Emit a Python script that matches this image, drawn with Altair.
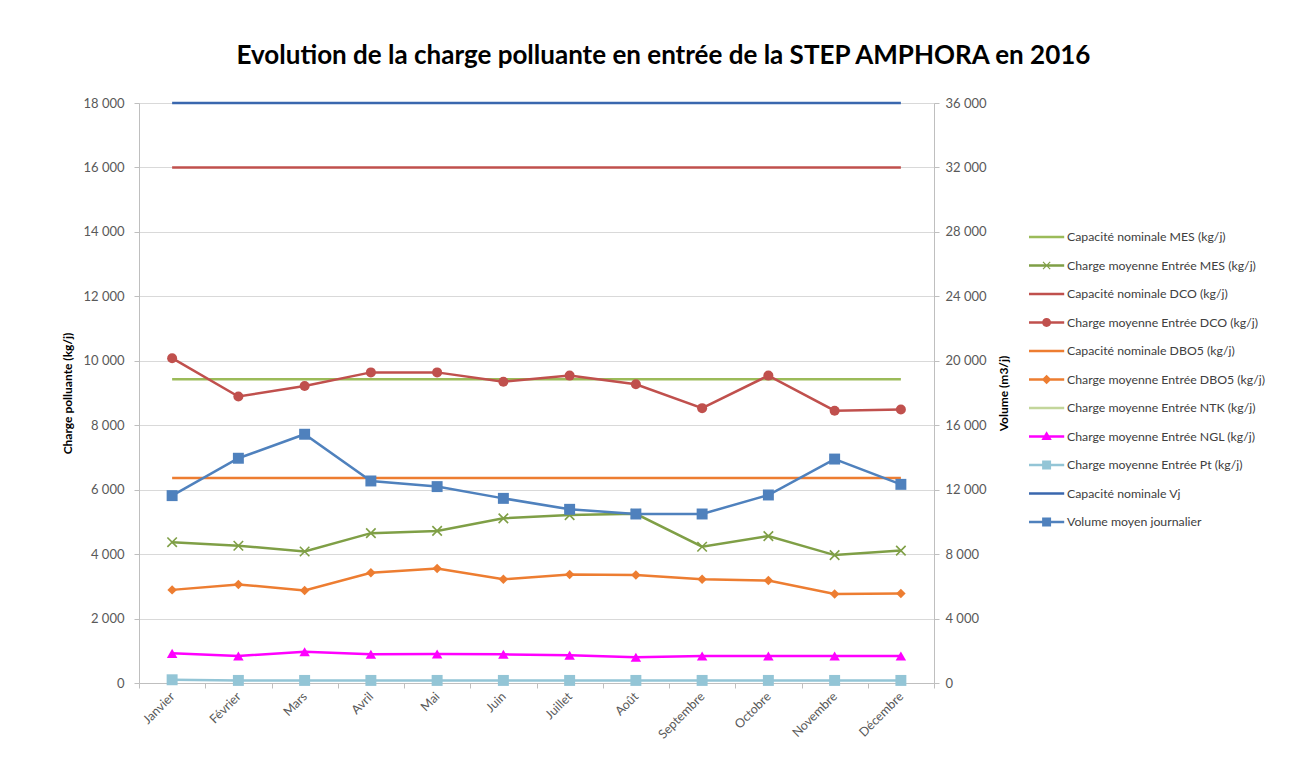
import altair as alt
import pandas as pd

months = ["Janvier", "Février", "Mars", "Avril", "Mai", "Juin", "Juillet",
          "Août", "Septembre", "Octobre", "Novembre", "Décembre"]

cap_mes = [9430, 9430, 9430, 9430, 9430, 9430, 9430, 9430, 9430, 9430, 9430, 9430]
charge_mes = [4370, 4260, 4080, 4650, 4720, 5110, 5210, 5250, 4230, 4560, 3970, 4110]
cap_dco = [16000, 16000, 16000, 16000, 16000, 16000, 16000, 16000, 16000, 16000, 16000, 16000]
charge_dco = [10080, 8890, 9220, 9640, 9640, 9350, 9540, 9270, 8530, 9540, 8450, 8490]
cap_dbo5 = [6360, 6360, 6360, 6360, 6360, 6360, 6360, 6360, 6360, 6360, 6360, 6360]
charge_dbo5 = [2890, 3060, 2870, 3420, 3550, 3220, 3370, 3350, 3220, 3180, 2760, 2780]
charge_ngl = [920, 840, 970, 890, 900, 890, 860, 800, 840, 840, 840, 840]
charge_pt = [100, 80, 80, 80, 80, 80, 80, 80, 80, 80, 80, 80]
cap_vj = [36000, 36000, 36000, 36000, 36000, 36000, 36000, 36000, 36000, 36000, 36000, 36000]
volume = [11630, 13950, 15440, 12540, 12190, 11460, 10780, 10490, 10490, 11670, 13900, 12330]

left_ticks = [0, 2000, 4000, 6000, 8000, 10000, 12000, 14000, 16000, 18000]
right_ticks = [0, 4000, 8000, 12000, 16000, 20000, 24000, 28000, 32000, 36000]

names = [
    "Capacité nominale MES (kg/j)",
    "Charge moyenne Entrée MES (kg/j)",
    "Capacité nominale DCO (kg/j)",
    "Charge moyenne Entrée DCO (kg/j)",
    "Capacité nominale DBO5 (kg/j)",
    "Charge moyenne Entrée DBO5 (kg/j)",
    "Charge moyenne Entrée NTK (kg/j)",
    "Charge moyenne Entrée NGL (kg/j)",
    "Charge moyenne Entrée Pt (kg/j)",
    "Capacité nominale Vj",
    "Volume moyen journalier",
]
colors = ["#9BBB59", "#7F9F46", "#C0504D", "#C0504D", "#ED7D31", "#ED7D31",
          "#C3D69B", "#FF00FF", "#93C5D6", "#3A67AE", "#4F81BD"]

# legend symbols: a line segment with the series marker
LINE = "M-1,-0.15L3.4,-0.15L3.4,0.15L-1,0.15Z"
CIRC = "M0.64,0A0.56,0.56 0 1,1 1.76,0A0.56,0.56 0 1,1 0.64,0Z"
DIAM = "M1.2,-0.6L1.8,0L1.2,0.6L0.6,0Z"
XMRK = "M0.7,-0.4L0.8,-0.5L1.7,0.4L1.6,0.5Z M0.7,0.4L1.6,-0.5L1.7,-0.4L0.8,0.5Z"
TRI = "M1.2,-0.65L1.85,0.45L0.55,0.45Z"
SQR = "M0.64,-0.56L1.76,-0.56L1.76,0.56L0.64,0.56Z"
legend_paths = [LINE, LINE + " " + XMRK, LINE, LINE + " " + CIRC, LINE, LINE + " " + DIAM,
                LINE, LINE + " " + TRI, LINE + " " + SQR, LINE, LINE + " " + SQR]

left_series = {
    names[0]: cap_mes, names[1]: charge_mes, names[2]: cap_dco, names[3]: charge_dco,
    names[4]: cap_dbo5, names[5]: charge_dbo5, names[7]: charge_ngl, names[8]: charge_pt,
}
right_series = {names[9]: cap_vj, names[10]: volume}

rows = []
for s, vals in left_series.items():
    for m, v in zip(months, vals):
        rows.append({"month": m, "series": s, "value": v, "axis": "left"})
for s, vals in right_series.items():
    for m, v in zip(months, vals):
        rows.append({"month": m, "series": s, "value": v, "axis": "right"})
df = pd.DataFrame(rows)
legend_df = pd.DataFrame({"series": names})

FONT = "Lato"
fmt = "replace(format(datum.value, ','), ',', ' ')"

X = alt.X("month:N", sort=months, title=None,
          scale=alt.Scale(domain=months, paddingInner=0, paddingOuter=0),
          axis=alt.Axis(labelAngle=-45, labelAlign="right", labelBaseline="middle",
                        tickBand="extent", grid=False, domainColor="#BFBFBF",
                        tickColor="#BFBFBF", tickSize=5, labelPadding=6,
                        labelFontSize=12.5, labelColor="#595959", labelFont=FONT))

YL = alt.Y("value:Q", scale=alt.Scale(domain=[0, 18000], nice=False, zero=True),
           axis=alt.Axis(values=left_ticks, labelExpr=fmt, title="Charge polluante (kg/j)",
                         grid=True, gridColor="#D9D9D9", domainColor="#BFBFBF",
                         tickColor="#BFBFBF", tickSize=5, labelPadding=10,
                         labelFontSize=13, labelColor="#595959", labelFont=FONT,
                         titleFontSize=12, titleFont=FONT, titleFontWeight="bold",
                         titleColor="#000000", titlePadding=8))
YR = alt.Y("value:Q", scale=alt.Scale(domain=[0, 36000], nice=False, zero=True),
           axis=alt.Axis(values=right_ticks, labelExpr=fmt, title="Volume (m3/j)",
                         orient="right", grid=False, domainColor="#BFBFBF",
                         tickColor="#BFBFBF", tickSize=5, labelPadding=6,
                         labelFontSize=13, labelColor="#595959", labelFont=FONT,
                         titleFontSize=12, titleFont=FONT, titleFontWeight="bold",
                         titleColor="#000000", titlePadding=24, titleAngle=270))

LEG = alt.Legend(title=None, orient="none", legendX=890, legendY=126, padding=0,
                 symbolSize=256, symbolOpacity=1, symbolStrokeWidth=0,
                 labelOffset=22, rowPadding=13.5, labelFontSize=12.3, labelFont=FONT,
                 labelColor="#404040", labelLimit=400)
COLOR = alt.Color("series:N", scale=alt.Scale(domain=names, range=colors), legend=LEG)

base = alt.Chart(df)

left_lines = base.transform_filter(alt.datum.axis == "left").mark_line(
    strokeWidth=2.5).encode(x=X, y=YL, color=COLOR)

marker_specs = [
    (names[1], dict(shape="M-1,-1L1,1M-1,1L1,-1", filled=False, strokeWidth=1.6, size=90)),
    (names[3], dict(shape="circle", filled=True, size=100)),
    (names[5], dict(shape="diamond", filled=True, size=90)),
    (names[7], dict(shape="triangle-up", filled=True, size=110)),
    (names[8], dict(shape="square", filled=True, size=120)),
]
left_points = []
for s, kw in marker_specs:
    left_points.append(
        base.transform_filter(alt.datum.series == s).mark_point(opacity=1, **kw)
        .encode(x=X, y=YL, color=COLOR)
    )

legend_layer = alt.Chart(legend_df).mark_point(filled=True, opacity=0, strokeWidth=0).encode(
    x=alt.value(0), y=alt.value(0), color=COLOR,
    shape=alt.Shape("series:N", scale=alt.Scale(domain=names, range=legend_paths), legend=LEG),
)

left = alt.layer(left_lines, *left_points, legend_layer)

right_lines = base.transform_filter(alt.datum.axis == "right").mark_line(
    strokeWidth=2.5).encode(x=X, y=YR, color=COLOR)
right_points = base.transform_filter(alt.datum.series == names[10]).mark_point(
    shape="square", filled=True, size=120, opacity=1).encode(x=X, y=YR, color=COLOR)
right = alt.layer(right_lines, right_points)

chart = alt.layer(left, right).resolve_scale(y="independent").properties(
    width=795, height=580,
    padding={"top": 35, "left": 53, "right": 5, "bottom": 5},
    title=alt.Title("Evolution de la charge polluante en entrée de la STEP AMPHORA en 2016",
                    fontSize=26, font=FONT, fontWeight="bold", color="#000000",
                    anchor="middle", frame="bounds", offset=28),
).configure_view(stroke=None).configure(background="white")

chart.save("out.html", embed_options={"renderer": "svg", "actions": False})
